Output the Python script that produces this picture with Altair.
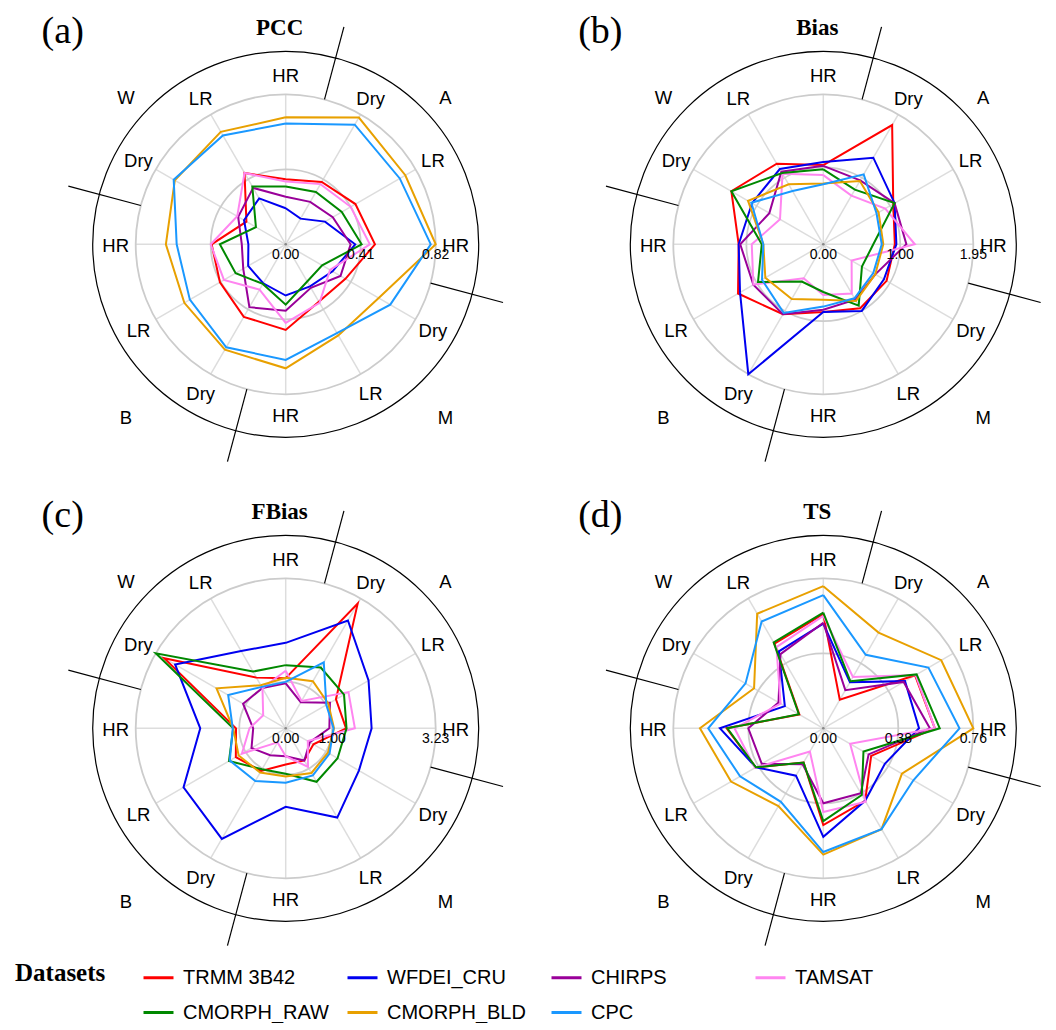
import altair as alt
import pandas as pd

# ---------------- data ----------------
spoke_labels = ["HR", "Dry", "LR", "HR", "Dry", "LR", "HR", "Dry", "LR", "HR", "Dry", "LR"]
season_labels = ["A", "M", "B", "W"]
datasets = ["TRMM 3B42", "WFDEI_CRU", "CHIRPS", "TAMSAT", "CMORPH_RAW", "CMORPH_BLD", "CPC"]
dataset_colors = ["#ff0000", "#0000f0", "#990099", "#ff85f0", "#008800", "#e8a000", "#1a98ff"]
metrics = ["PCC", "Bias", "FBias", "TS"]
panel_letters = ["(a)", "(b)", "(c)", "(d)"]
axis_max = [0.82, 1.95, 3.23, 0.76]
tick_values = [[0.0, 0.41, 0.82], [0.0, 1.00, 1.95], [0.0, 1.00, 3.23], [0.0, 0.38, 0.76]]

# values per spoke, clockwise from the top HR spoke
pcc_values = {
    "TRMM 3B42":  [0.355, 0.394, 0.44, 0.488, 0.377, 0.362, 0.468, 0.458, 0.415, 0.405, 0.248, 0.45],
    "WFDEI_CRU":  [0.197, 0.162, 0.248, 0.38, 0.296, 0.266, 0.28, 0.246, 0.237, 0.204, 0.263, 0.29],
    "CHIRPS":     [0.26, 0.268, 0.297, 0.355, 0.346, 0.275, 0.363, 0.397, 0.268, 0.24, 0.30, 0.356],
    "TAMSAT":     [0.343, 0.38, 0.41, 0.46, 0.28, 0.37, 0.43, 0.286, 0.39, 0.41, 0.306, 0.45],
    "CMORPH_RAW": [0.316, 0.33, 0.354, 0.415, 0.23, 0.235, 0.33, 0.25, 0.316, 0.36, 0.188, 0.365],
    "CMORPH_BLD": [0.694, 0.80, 0.755, 0.82, 0.587, 0.575, 0.678, 0.665, 0.64, 0.655, 0.70, 0.71],
    "CPC":        [0.66, 0.755, 0.72, 0.793, 0.66, 0.56, 0.632, 0.65, 0.605, 0.596, 0.707, 0.687],
}
bias_values = {
    "TRMM 3B42":  [1.03, 1.79, 1.05, 0.93, 0.95, 0.96, 0.88, 1.05, 1.28, 1.10, 1.38, 1.21],
    "WFDEI_CRU":  [1.07, 1.30, 1.07, 0.95, 0.91, 1.00, 0.88, 1.95, 1.25, 1.10, 1.07, 1.13],
    "CHIRPS":     [1.02, 0.96, 1.07, 1.08, 0.78, 0.83, 0.85, 1.05, 1.05, 1.08, 0.81, 1.09],
    "TAMSAT":     [0.90, 0.73, 0.93, 1.19, 0.425, 0.74, 0.66, 0.51, 1.05, 0.93, 0.65, 1.06],
    "CMORPH_RAW": [0.975, 0.82, 1.07, 0.65, 0.58, 0.92, 0.62, 0.56, 0.98, 0.80, 1.38, 1.07],
    "CMORPH_BLD": [0.79, 0.95, 0.83, 0.78, 0.78, 0.85, 0.72, 0.82, 0.87, 0.78, 1.13, 0.90],
    "CPC":        [0.78, 1.05, 0.80, 0.76, 0.75, 0.81, 0.81, 1.03, 0.92, 0.78, 1.08, 0.80],
}
fbias_values = {
    "TRMM 3B42":  [1.08, 3.10, 1.25, 1.30, 0.69, 0.80, 0.78, 1.06, 1.24, 1.07, 3.02, 1.26],
    "WFDEI_CRU":  [1.84, 2.68, 2.06, 1.85, 1.82, 2.22, 1.69, 2.75, 2.54, 1.84, 2.75, 1.92],
    "CHIRPS":     [0.97, 0.65, 1.10, 0.94, 0.60, 0.80, 0.60, 0.67, 0.85, 0.70, 1.06, 1.00],
    "TAMSAT":     [1.24, 0.68, 1.56, 1.49, 0.55, 0.96, 0.60, 0.35, 1.09, 0.78, 0.56, 1.00],
    "CMORPH_RAW": [1.36, 1.51, 1.45, 1.31, 1.29, 1.33, 0.98, 1.02, 1.41, 1.13, 3.23, 1.41],
    "CMORPH_BLD": [1.09, 1.17, 1.06, 1.04, 1.05, 1.11, 1.04, 1.10, 1.17, 1.13, 1.72, 1.07],
    "CPC":        [1.00, 1.64, 1.01, 1.03, 1.09, 1.17, 1.17, 1.31, 1.39, 1.14, 1.43, 1.03],
}
ts_values = {
    "TRMM 3B42":  [0.578, 0.167, 0.537, 0.565, 0.28, 0.424, 0.49, 0.20, 0.395, 0.49, 0.14, 0.495],
    "WFDEI_CRU":  [0.53, 0.27, 0.478, 0.485, 0.36, 0.424, 0.55, 0.277, 0.395, 0.524, 0.225, 0.45],
    "CHIRPS":     [0.535, 0.223, 0.47, 0.54, 0.265, 0.38, 0.38, 0.21, 0.36, 0.38, 0.262, 0.434],
    "TAMSAT":     [0.57, 0.30, 0.54, 0.565, 0.157, 0.43, 0.424, 0.136, 0.40, 0.45, 0.25, 0.475],
    "CMORPH_RAW": [0.586, 0.275, 0.546, 0.59, 0.235, 0.39, 0.47, 0.20, 0.395, 0.486, 0.143, 0.503],
    "CMORPH_BLD": [0.72, 0.56, 0.69, 0.76, 0.46, 0.59, 0.64, 0.455, 0.54, 0.625, 0.405, 0.67],
    "CPC":        [0.675, 0.43, 0.615, 0.69, 0.527, 0.59, 0.627, 0.43, 0.487, 0.583, 0.455, 0.625],
}
metric_values = [pcc_values, bias_values, fbias_values, ts_values]

# ---------------- layout (pixels) ----------------
PANEL_W = 516
TOP_H = 476
BOTTOM_H = 460
GAP = 8
CX = [277.7, 291.3]   # polar centre inside a panel, per column
CY = 236.3
R_PLOT = 150          # radius of the axis maximum
R_OUTER = 193
R_LABEL = 170
R_SEASON = 226
R_SEP0, R_SEP1 = 150, 225

SANS = "Liberation Sans"
SERIF = "Liberation Serif"

color_enc = alt.Color(
    "dataset:N",
    scale=alt.Scale(domain=datasets, range=dataset_colors),
    legend=alt.Legend(
        title="Datasets", orient="none", legendX=7, legendY=953,
        columns=4, direction="horizontal", symbolType="stroke",
        symbolSize=900, symbolStrokeWidth=3, labelFont=SANS, labelFontSize=20,
        labelColor="black", titleFont=SERIF, titleFontSize=25, titleFontWeight="bold",
        titleColor="black", titleOrient="left", titleAnchor="start", titleBaseline="top",
        titlePadding=36, columnPadding=12, rowPadding=8, labelOffset=8,
        gridAlign="all", padding=0, labelLimit=0,
    ),
)


def panel(m, col, height):
    vmax = axis_max[m]
    cx = CX[col]
    xs = alt.Scale(domain=[-cx, PANEL_W - cx], nice=False, zero=False)
    ys = alt.Scale(domain=[CY - height, CY], nice=False, zero=False)

    def X(f):
        return alt.X(f, type="quantitative", scale=xs, axis=None)

    def Y(f):
        return alt.Y(f, type="quantitative", scale=ys, axis=None)

    origin = pd.DataFrame({"x0": [0.0], "y0": [0.0]})
    spoke_df = pd.DataFrame({"i": list(range(12)), "label": spoke_labels})

    spokes = alt.Chart(spoke_df).transform_calculate(
        a="datum.i*PI/6", x0="0", y0="0",
        x1=f"{R_PLOT}*sin(datum.a)", y1=f"{R_PLOT}*cos(datum.a)",
    ).mark_rule(color="#dddddd", strokeWidth=1.5).encode(
        x=X("x0"), y=Y("y0"), x2="x1:Q", y2="y1:Q")

    ring_df = pd.DataFrame({"v": tick_values[m][1:]})
    rings = alt.Chart(ring_df).transform_calculate(
        x0="0", y0="0", s=f"pow(2*datum.v/{vmax}*{R_PLOT}, 2)",
    ).mark_point(shape="circle", filled=False, color="#cccccc", strokeWidth=1.8,
                 opacity=1).encode(x=X("x0"), y=Y("y0"), size=alt.Size("s:Q", scale=None))

    outer = alt.Chart(origin).mark_point(
        shape="circle", filled=False, color="black", strokeWidth=1.2, opacity=1,
        size=(2 * R_OUTER) ** 2).encode(x=X("x0"), y=Y("y0"))

    centre = alt.Chart(origin).mark_point(
        shape="circle", filled=True, color="#888888", size=7, opacity=1).encode(
        x=X("x0"), y=Y("y0"))

    sep_df = pd.DataFrame({"i": [0, 1, 2, 3]})
    seps = alt.Chart(sep_df).transform_calculate(
        a="(15 + datum.i*90)*PI/180",
        x1=f"{R_SEP0}*sin(datum.a)", y1=f"{R_SEP0}*cos(datum.a)",
        x2=f"{R_SEP1}*sin(datum.a)", y2=f"{R_SEP1}*cos(datum.a)",
    ).mark_rule(color="black", strokeWidth=1.2).encode(
        x=X("x1"), y=Y("y1"), x2="x2:Q", y2="y2:Q")

    rows = []
    for ds in datasets:
        vals = metric_values[m][ds]
        for i in range(13):
            rows.append({"dataset": ds, "idx": i, "value": vals[i % 12]})
    line_df = pd.DataFrame(rows)
    lines = alt.Chart(line_df).transform_calculate(
        a="datum.idx*PI/6", r=f"datum.value/{vmax}*{R_PLOT}",
        x="datum.r*sin(datum.a)", y="datum.r*cos(datum.a)",
    ).mark_line(strokeWidth=2).encode(
        x=X("x"), y=Y("y"), color=color_enc, order="idx:Q")

    spoke_text = alt.Chart(spoke_df).transform_calculate(
        a="datum.i*PI/6",
        x=f"{R_LABEL}*sin(datum.a)", y=f"{R_LABEL}*cos(datum.a)",
    ).mark_text(font=SANS, fontSize=18.5, color="black", dy=2).encode(
        x=X("x"), y=Y("y"), text="label:N")

    season_df = pd.DataFrame({"i": [0, 1, 2, 3], "label": season_labels})
    season_text = alt.Chart(season_df).transform_calculate(
        a="(45 + datum.i*90)*PI/180",
        x=f"{R_SEASON}*sin(datum.a)", y=f"{R_SEASON}*cos(datum.a)",
    ).mark_text(font=SANS, fontSize=18.5, color="black", dy=14).encode(
        x=X("x"), y=Y("y"), text="label:N")

    tick_df = pd.DataFrame({"v": tick_values[m]})
    tick_text = alt.Chart(tick_df).transform_calculate(
        x=f"datum.v/{vmax}*{R_PLOT}", y="0", t="format(datum.v, '.2f')",
    ).mark_text(font=SANS, fontSize=14, color="black", dy=11).encode(
        x=X("x"), y=Y("y"), text="t:N")

    title = alt.Chart(origin).mark_text(
        font=SERIF, fontSize=23, fontWeight="bold", color="black", text=metrics[m]
    ).encode(x=alt.XDatum(-6, type="quantitative", scale=xs, axis=None),
             y=alt.YDatum(216, type="quantitative", scale=ys, axis=None))

    letter = alt.Chart(origin).mark_text(
        font=SERIF, fontSize=38, color="black", text=panel_letters[m]
    ).encode(x=alt.XDatum(-223, type="quantitative", scale=xs, axis=None),
             y=alt.YDatum(212, type="quantitative", scale=ys, axis=None))

    return alt.layer(
        spokes, rings, outer, seps, centre, lines,
        spoke_text, season_text, tick_text, title, letter,
    ).properties(width=PANEL_W, height=height)


top = alt.hconcat(panel(0, 0, TOP_H), panel(1, 1, TOP_H), spacing=GAP)
bottom = alt.hconcat(panel(2, 0, BOTTOM_H), panel(3, 1, BOTTOM_H), spacing=GAP)

chart = alt.vconcat(top, bottom, spacing=GAP, padding=0).configure_view(
    strokeWidth=0, stroke=None)

chart.save("out.html", embed_options={"renderer": "svg", "actions": False})
